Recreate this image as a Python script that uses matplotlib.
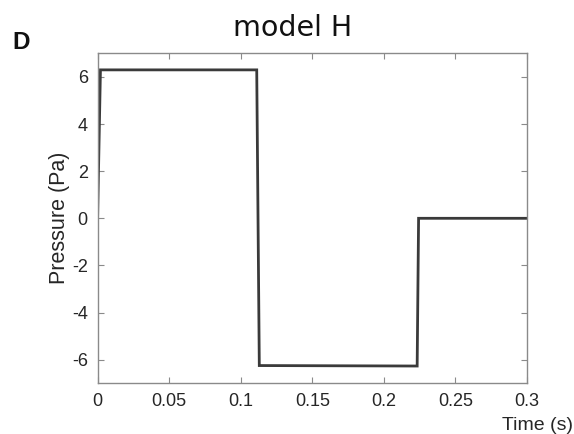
import numpy as np
import matplotlib.pyplot as plt

# Pressure waveform for model H
time_s = [0.0, 0.002, 0.1112, 0.1130, 0.2233, 0.2243, 0.3]
pressure_pa = [0.0, 6.30, 6.30, -6.25, -6.27, 0.0, 0.0]

x_ticks = [0, 0.05, 0.1, 0.15, 0.2, 0.25, 0.3]
x_tick_labels = ['0', '0.05', '0.1', '0.15', '0.2', '0.25', '0.3']
y_ticks = [-6, -4, -2, 0, 2, 4, 6]

plt.rcParams['font.family'] = ['Liberation Sans', 'DejaVu Sans']
plt.rcParams['axes.unicode_minus'] = False

fig = plt.figure(figsize=(5.74, 4.34), dpi=100)
ax = fig.add_axes([0.170, 0.117, 0.748, 0.760])

ax.plot(time_s, pressure_pa, color='#3a3a3a', linewidth=2.0, solid_joinstyle='miter')

ax.set_xlim(0, 0.3)
ax.set_ylim(-7, 7)
ax.set_xticks(x_ticks)
ax.set_xticklabels(x_tick_labels)
ax.set_yticks(y_ticks)

frame_col = '#8a8a8a'
for sp in ax.spines.values():
    sp.set_color(frame_col)
    sp.set_linewidth(1.0)
ax.tick_params(direction='in', length=4, width=0.8, color=frame_col,
               top=True, right=True, labelsize=13, labelcolor='#262626', pad=7)

ax.set_ylabel('Pressure (Pa)', fontsize=15.5, color='#262626')
ax.yaxis.set_label_coords(-0.088, 0.5)
ax.yaxis.label.set_va('center')
ax.set_xlabel('Time (s)', fontsize=14, color='#262626')
ax.xaxis.set_label_coords(1.025, -0.128)
ax.xaxis.label.set_va('center')

fig.text(0.51, 0.936, 'model H', fontsize=20.5, family='DejaVu Sans',
         ha='center', va='center', color='#111111')
fig.text(0.022, 0.903, 'D', fontsize=17.5, fontweight='bold',
         ha='left', va='center', color='#111111')

fig.savefig('out.png', dpi=100, facecolor='white')
